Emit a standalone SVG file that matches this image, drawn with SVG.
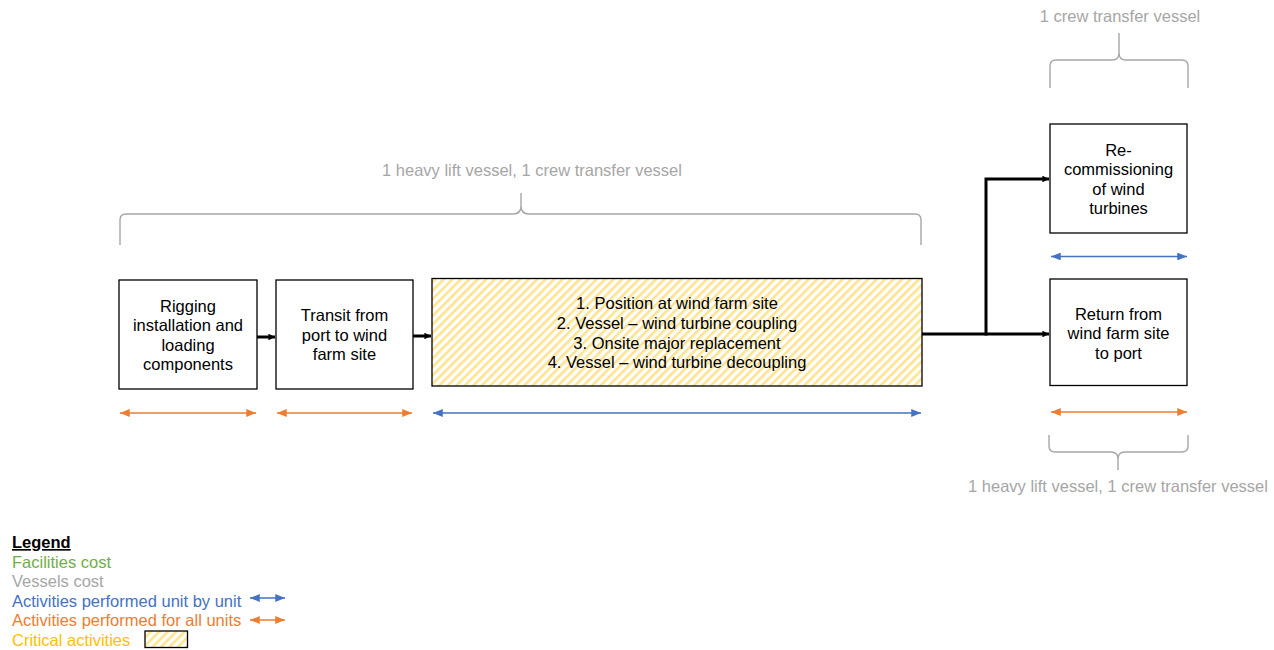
<svg xmlns="http://www.w3.org/2000/svg" width="1274" height="650" viewBox="0 0 1274 650">
  <style>
    text { font-family: "Liberation Sans", Arial, sans-serif; font-size: 16.5px; }
    .lbl { fill: #000; text-anchor: middle; }
    .box { fill: #fff; stroke: #000; stroke-width: 1.3; }
    .crit { fill: url(#hatch); stroke: #000; stroke-width: 1.3; }
    .flow { fill: none; stroke: #000; stroke-width: 3; marker-end: url(#blackHead); }
    .blue { stroke: #4472C4; stroke-width: 1.5; marker-start: url(#blueHead); marker-end: url(#blueHead); }
    .orange { stroke: #ED7D31; stroke-width: 1.5; marker-start: url(#orangeHead); marker-end: url(#orangeHead); }
    .brace { fill: none; stroke: #A6A6A6; stroke-width: 1.4; }
    .vessel { fill: #A6A6A6; text-anchor: middle; }
  </style>
  <defs>
    <pattern id="hatch" patternUnits="userSpaceOnUse" width="6" height="6" patternTransform="rotate(45)">
      <rect width="6" height="6" fill="#fff"/>
      <rect width="2.6" height="6" fill="#FFE38F"/>
    </pattern>
    <marker id="blackHead" viewBox="0 0 6 6" refX="6" refY="3" markerWidth="2.2" markerHeight="2.2" orient="auto">
      <path d="M0,0 L6,3 L0,6 Z" fill="#000"/>
    </marker>
    <marker id="blueHead" viewBox="0 0 10 8" refX="10" refY="4" markerWidth="6.5" markerHeight="5.2" orient="auto-start-reverse" markerUnits="strokeWidth">
      <path d="M0,0 L10,4 L0,8 Z" fill="#4472C4"/>
    </marker>
    <marker id="orangeHead" viewBox="0 0 10 8" refX="10" refY="4" markerWidth="6.5" markerHeight="5.2" orient="auto-start-reverse" markerUnits="strokeWidth">
      <path d="M0,0 L10,4 L0,8 Z" fill="#ED7D31"/>
    </marker>
  </defs>

  <rect width="1274" height="650" fill="#fff"/>

  <!-- process steps -->
  <g id="rigging">
    <rect class="box" x="119" y="280" width="138" height="109"/>
    <text class="lbl" x="188" y="311.5">Rigging</text>
    <text class="lbl" x="188" y="331">installation and</text>
    <text class="lbl" x="188" y="350.5">loading</text>
    <text class="lbl" x="188" y="370">components</text>
  </g>
  <g id="transit">
    <rect class="box" x="276" y="280" width="137" height="109"/>
    <text class="lbl" x="344.5" y="321">Transit from</text>
    <text class="lbl" x="344.5" y="340.5">port to wind</text>
    <text class="lbl" x="344.5" y="360">farm site</text>
  </g>
  <g id="onsite">
    <rect class="crit" x="432" y="278.5" width="490" height="107.5"/>
    <text class="lbl" x="677" y="309">1. Position at wind farm site</text>
    <text class="lbl" x="677" y="328.5">2. Vessel – wind turbine coupling</text>
    <text class="lbl" x="677" y="348.5">3. Onsite major replacement</text>
    <text class="lbl" x="677" y="368">4. Vessel – wind turbine decoupling</text>
  </g>
  <g id="recommissioning">
    <rect class="box" x="1050" y="124" width="137" height="109"/>
    <text class="lbl" x="1118.5" y="155.5">Re-</text>
    <text class="lbl" x="1118.5" y="175">commissioning</text>
    <text class="lbl" x="1118.5" y="194.5">of wind</text>
    <text class="lbl" x="1118.5" y="214">turbines</text>
  </g>
  <g id="return">
    <rect class="box" x="1050" y="279" width="137" height="106.5"/>
    <text class="lbl" x="1118.5" y="319.5">Return from</text>
    <text class="lbl" x="1118.5" y="339">wind farm site</text>
    <text class="lbl" x="1118.5" y="358.5">to port</text>
  </g>

  <!-- flow connectors -->
  <g id="connectors">
    <path class="flow" d="M257,337 H275"/>
    <path class="flow" d="M413,336 H431"/>
    <path class="flow" d="M922,334 H1049"/>
    <path class="flow" d="M986,335.5 V179 H1049"/>
  </g>

  <!-- activity scope arrows -->
  <g id="scope-arrows">
    <line class="orange" x1="120" y1="413" x2="256" y2="413"/>
    <line class="orange" x1="277" y1="413" x2="412" y2="413"/>
    <line class="blue" x1="433" y1="413" x2="921" y2="413"/>
    <line class="blue" x1="1051" y1="256.5" x2="1187" y2="256.5"/>
    <line class="orange" x1="1051" y1="412" x2="1187" y2="412"/>
  </g>

  <!-- vessel braces -->
  <g id="vessels-main">
    <path class="brace" d="M120,245 V220 Q120,214 126,214 H513 Q521,214 521,206 V193 M921,245 V220 Q921,214 915,214 H529 Q521,214 521,206"/>
    <text class="vessel" x="532" y="175.5">1 heavy lift vessel, 1 crew transfer vessel</text>
  </g>
  <g id="vessels-recommissioning">
    <path class="brace" d="M1050,88 V66 Q1050,60 1056,60 H1112 Q1119,60 1119,53 V33 M1188,88 V66 Q1188,60 1182,60 H1126 Q1119,60 1119,53"/>
    <text class="vessel" x="1120" y="21.5">1 crew transfer vessel</text>
  </g>
  <g id="vessels-return">
    <path class="brace" d="M1049,435 V446 Q1049,452 1055,452 H1111 Q1118,452 1118,459 V470 M1188,435 V446 Q1188,452 1182,452 H1125 Q1118,452 1118,459"/>
    <text class="vessel" x="1118" y="491.5">1 heavy lift vessel, 1 crew transfer vessel</text>
  </g>

  <!-- legend -->
  <g id="legend">
    <text x="12" y="548" font-weight="bold" text-decoration="underline" fill="#000">Legend</text>
    <text x="12" y="567.5" fill="#70AD47">Facilities cost</text>
    <text x="12" y="587" fill="#A6A6A6">Vessels cost</text>
    <text x="12" y="606.5" fill="#4472C4">Activities performed unit by unit</text>
    <text x="12" y="626" fill="#ED7D31">Activities performed for all units</text>
    <text x="12" y="645.5" fill="#FFC000">Critical activities</text>
    <line class="blue" x1="250" y1="598" x2="285" y2="598"/>
    <line class="orange" x1="250" y1="620" x2="285" y2="620"/>
    <rect class="crit" x="145" y="631" width="42.5" height="16.5"/>
  </g>
</svg>
